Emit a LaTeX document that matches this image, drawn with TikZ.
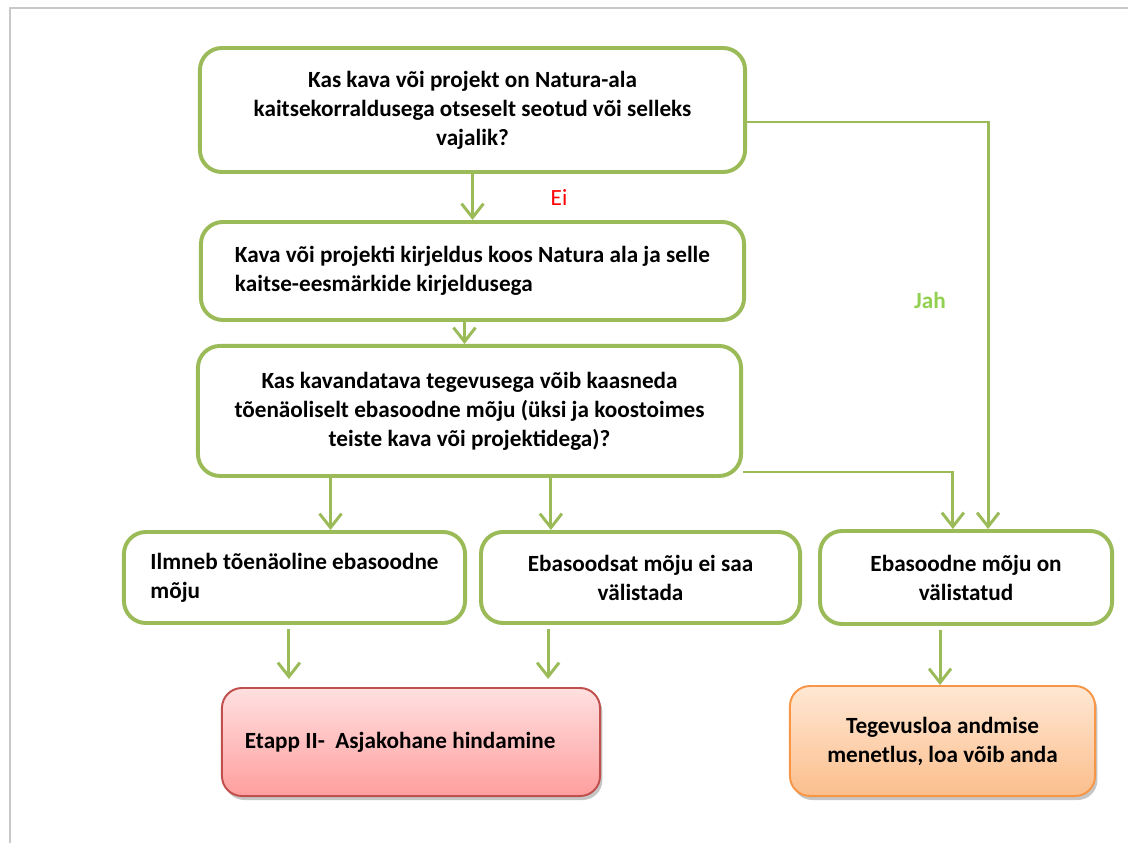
\documentclass[tikz,border=0pt]{standalone}
\usepackage{fontspec}
\setmainfont{Carlito}
\usetikzlibrary{positioning,arrows.meta,shadows}
\definecolor{boxgreen}{RGB}{155,187,89}
\definecolor{jahgreen}{RGB}{146,208,80}
\definecolor{redline}{RGB}{192,80,77}
\definecolor{redtop}{RGB}{255,224,224}
\definecolor{redbottom}{RGB}{255,158,158}
\definecolor{orangeline}{RGB}{247,150,70}
\definecolor{orangetop}{RGB}{255,232,212}
\definecolor{orangebottom}{RGB}{251,190,140}
\definecolor{framegray}{RGB}{200,200,200}

\begin{document}
\begin{tikzpicture}[
  x=0.025cm, y=-0.025cm,
  every node/.style={font=\bfseries\fontsize{16.5pt}{20.6pt}\selectfont},
  box/.style={draw=boxgreen, line width=2.8pt, rounded corners=0.55cm, align=center, inner sep=0pt},
  stage/.style={rounded corners=0.5cm, line width=1.4pt,
    drop shadow={shadow xshift=0.06cm, shadow yshift=-0.1cm, opacity=0.45}},
  flow/.style={draw=boxgreen, line width=2.1pt, -{Straight Barb[length=0.35cm,width=0.55cm]}},
  ]
  \useasboundingbox (0,0) rectangle (1128,843);
  \draw[framegray, line width=1.4pt] (10,843) -- (10,8) -- (1128,8);

  \node[box, minimum width=13.625cm, minimum height=3.1cm] (ask) at (472.5,110)
    {Kas kava või projekt on Natura-ala\\kaitsekorraldusega otseselt seotud või selleks\\vajalik?};
  \node[box, align=left, minimum width=13.575cm, minimum height=2.45cm, below=1.15cm of ask] (describe)
    {Kava või projekti kirjeldus koos Natura ala ja selle\\kaitse-eesmärkide kirjeldusega};
  \node[box, minimum width=13.575cm, minimum height=3.25cm, below=0.55cm of describe, xshift=-0.075cm] (effect)
    {Kas kavandatava tegevusega võib kaasneda\\tõenäoliselt ebasoodne mõju (üksi ja koostoimes\\teiste kava või projektidega)?};
  \node[box, align=left, minimum width=8.525cm, minimum height=2.275cm, anchor=north] (likely) at (294.5,530)
    {Ilmneb tõenäoline ebasoodne\\mõju};
  \node[box, minimum width=7.975cm, minimum height=2.275cm, right=0.3cm of likely] (open)
    {Ebasoodsat mõju ei saa\\välistada};
  \node[box, minimum width=7.3cm, minimum height=2.325cm, right=0.4cm of open] (excluded)
    {Ebasoodne mõju on\\välistatud};

  \node[stage, draw=redline, top color=redtop, bottom color=redbottom, align=flush left,
    text width=8.3cm, inner xsep=0.575cm, minimum height=2.7cm] (stage2) at (411,742)
    {Etapp II-\ \ Asjakohane hindamine};
  \node[stage, draw=orangeline, top color=orangetop, bottom color=orangebottom, align=center,
    minimum width=7.625cm, minimum height=2.75cm] (permit) at (942.5,741)
    {Tegevusloa andmise\\menetlus, loa võib anda};

  \node[text=red, font=\fontsize{16.5pt}{20.6pt}\selectfont] (no) at (559,198) {Ei};
  \node[text=jahgreen] (yes) at (930,300) {Jah};

  \draw[flow] (ask.south) -- (ask.south |- describe.north);
  \draw[flow] ([xshift=-0.2cm]describe.south) -- ([xshift=-0.2cm]describe.south |- effect.north);
  \draw[flow] ([yshift=-0.3cm]ask.east) -| ([xshift=0.55cm]excluded.north);
  \draw[flow] ([yshift=-1.525cm]effect.east) -| ([xshift=-0.33cm]excluded.north);
  \draw[flow] ([xshift=0.9cm]likely.north |- effect.south) -- ([xshift=0.9cm]likely.north);
  \draw[flow] ([xshift=-2.24cm]open.north |- effect.south) -- ([xshift=-2.24cm]open.north);
  \draw[flow, shorten <=0.1cm, shorten >=0.2cm]
    ([xshift=-0.14cm]likely.south) -- ([xshift=-0.14cm]likely.south |- stage2.north);
  \draw[flow, shorten <=0.1cm, shorten >=0.2cm]
    ([xshift=-2.31cm]open.south) -- ([xshift=-2.31cm]open.south |- stage2.north);
  \draw[flow, shorten <=0.1cm]
    ([xshift=-0.65cm]excluded.south) -- ([xshift=-0.65cm]excluded.south |- permit.north);
\end{tikzpicture}
\end{document}
